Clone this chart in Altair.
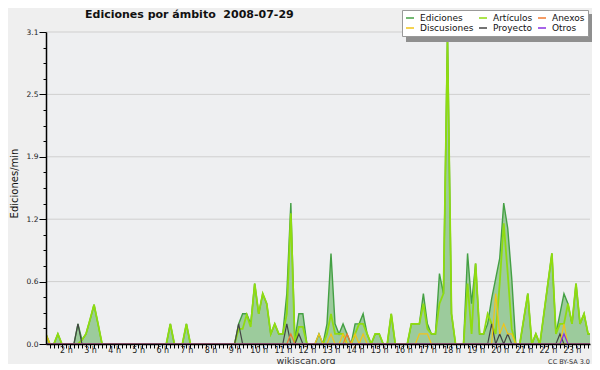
import altair as alt
import pandas as pd

FONT = "DejaVu Sans"

# 10-minute slots, first slot = 1:10, last = 23:50 (rows = hours)
FIRST_SLOT = 7  # slot index k, time = k/6 hours

ediciones = (
    [0.1, 0, 0, 0.1, 0]
    + [0, 0, 0, 0.2, 0.04, 0.1]
    + [0.24, 0.39, 0.2, 0, 0, 0]
    + [0, 0, 0, 0, 0, 0]
    + [0, 0, 0, 0, 0, 0]
    + [0, 0, 0.2, 0, 0, 0]
    + [0.2, 0, 0, 0, 0, 0]
    + [0, 0, 0, 0, 0, 0]
    + [0, 0.2, 0.3, 0.3, 0.2, 0.6]
    + [0.3, 0.5, 0.4, 0.1, 0.2, 0.1]
    + [0.1, 0.5, 1.4, 0.04, 0.3, 0.3]
    + [0, 0, 0, 0.1, 0, 0.2]
    + [0.9, 0.2, 0.1, 0.2, 0.1, 0]
    + [0.2, 0.2, 0.3, 0.1, 0, 0.1]
    + [0.1, 0, 0, 0.3, 0, 0]
    + [0, 0, 0.2, 0.2, 0.2, 0.5]
    + [0.2, 0.1, 0.1, 0.7, 0.5, 3.1]
    + [0.3, 0, 0, 0, 0.9, 0.4]
    + [0.8, 0.1, 0.1, 0.2, 0.45, 0.65]
    + [0.85, 1.4, 1.15, 0.65, 0, 0]
    + [0.25, 0.5, 0, 0.1, 0, 0.3]
    + [0.6, 0.9, 0.1, 0.3, 0.5, 0.4]
    + [0.2, 0.6, 0.2, 0.3, 0.1, 0.1]
)

articulos = (
    [0.1, 0, 0, 0.1, 0]
    + [0, 0, 0, 0, 0.04, 0.1]
    + [0.24, 0.39, 0.2, 0, 0, 0]
    + [0, 0, 0, 0, 0, 0]
    + [0, 0, 0, 0, 0, 0]
    + [0, 0, 0.2, 0, 0, 0]
    + [0.2, 0, 0, 0, 0, 0]
    + [0, 0, 0, 0, 0, 0]
    + [0, 0.15, 0.15, 0.29, 0.17, 0.6]
    + [0.3, 0.5, 0.4, 0.1, 0.2, 0.1]
    + [0.1, 0.3, 1.3, 0, 0.17, 0.17]
    + [0, 0, 0, 0, 0, 0.1]
    + [0.3, 0.1, 0.1, 0.1, 0, 0]
    + [0.1, 0.2, 0.2, 0.1, 0, 0.1]
    + [0.1, 0, 0, 0.3, 0, 0]
    + [0, 0, 0.2, 0.2, 0.2, 0.4]
    + [0.15, 0.1, 0.1, 0.4, 0.5, 3.0]
    + [0.3, 0, 0, 0, 0.6, 0.1]
    + [0.8, 0.1, 0.1, 0.3, 0.2, 0.1]
    + [0.6, 1.2, 0.7, 0.15, 0, 0]
    + [0.25, 0.5, 0, 0.1, 0, 0.3]
    + [0.6, 0.9, 0.1, 0.2, 0.2, 0.4]
    + [0.2, 0.6, 0.2, 0.3, 0.1, 0.1]
)

Z6 = [0, 0, 0, 0, 0, 0]

discusiones = (
    [0.1, 0, 0, 0, 0]
    + Z6 * 10
    + [0, 0, 0, 0.1, 0, 0]
    + [0.1, 0, 0, 0.1, 0, 0]
    + [0.1, 0, 0.1, 0, 0, 0]
    + Z6
    + [0, 0, 0, 0, 0.1, 0.1]
    + [0.1, 0, 0, 0, 0, 0]
    + Z6
    + [0, 0, 0, 0, 0, 0.5]
    + [0.1, 0.2, 0.1, 0.1, 0, 0]
    + Z6
    + [0, 0, 0, 0, 0.2, 0]
    + Z6
)

anexos = (
    [0, 0, 0, 0, 0]
    + Z6 * 9
    + [0, 0, 0.1, 0, 0, 0]
    + Z6
    + [0, 0, 0, 0, 0.1, 0]
    + Z6 * 10
)

proyecto = (
    [0, 0, 0, 0, 0]
    + [0, 0, 0, 0.2, 0, 0]
    + Z6 * 6
    + [0, 0.2, 0, 0, 0, 0]
    + Z6
    + [0, 0.2, 0, 0, 0.1, 0]
    + Z6 * 7
    + [0, 0, 0, 0, 0.2, 0]
    + [0.1, 0, 0.1, 0, 0, 0]
    + Z6
    + [0, 0, 0, 0.1, 0, 0]
    + Z6
)

otros = (
    [0, 0, 0, 0, 0]
    + Z6 * 20
    + [0, 0, 0, 0, 0.1, 0]
    + Z6
)

series_names = ["Ediciones", "Artículos", "Anexos", "Discusiones", "Proyecto", "Otros"]
series_colors = ["#44a044", "#8fdc10", "#f07a30", "#f2c418", "#444444", "#8a30e0"]
series_widths = {"Ediciones": 1.4, "Artículos": 1.8, "Anexos": 1.2,
                 "Discusiones": 1.2, "Proyecto": 1.2, "Otros": 1.2}
series_values = {"Ediciones": ediciones, "Artículos": articulos, "Anexos": anexos,
                 "Discusiones": discusiones, "Proyecto": proyecto, "Otros": otros}
draw_order = ["Ediciones", "Artículos", "Proyecto", "Discusiones", "Anexos", "Otros"]

y_max = 3.1
y_major = [0.0, 0.62, 1.24, 1.86, 2.48, 3.1]
y_ticks = [round(i * 0.155, 4) for i in range(21)]
x_domain = [1.174, 23.747]
title_text = "Ediciones por ámbito\u00a0\u00a02008-07-29"
credit = "CC BY-SA 3.0"
source = "wikiscan.org"

n = len(ediciones)
times = [round((FIRST_SLOT + i) / 6, 5) for i in range(n)]
for name, vals in series_values.items():
    assert len(vals) == n, (name, len(vals), n)

rows = []
for name in series_names:
    for t, v in zip(times, series_values[name]):
        rows.append({"t": t, "v": v, "serie": name})
df = pd.DataFrame(rows)
df_ed = df[df.serie == "Ediciones"]

x_ticks = [round(k / 6, 5) for k in range(FIRST_SLOT + 1, FIRST_SLOT + n) if k / 6 <= x_domain[1]]

xscale = alt.Scale(domain=x_domain, nice=False, zero=False)
yscale = alt.Scale(domain=[0, y_max], nice=False)

MAJOR_TEST = "abs(datum.value / 0.62 - round(datum.value / 0.62)) < 0.01"

x_enc = alt.X(
    "t:Q", scale=xscale,
    axis=alt.Axis(
        values=x_ticks,
        labelExpr="abs(datum.value - round(datum.value)) < 0.01 ? round(datum.value) + ' h' : ''",
        tickSize=4, tickColor="black", tickWidth=1,
        domainColor="black", domainWidth=1.5,
        labelFont=FONT, labelFontSize=8, labelColor="#222",
        labelPadding=-2, labelOverlap=False, labelFlush=False, labelBound=False,
        grid=False, zindex=1,
        title=source, titleFont=FONT, titleFontSize=9.5, titleFontWeight="normal",
        titleColor="#333", titleX=259.5, titleY=19, titleBaseline="alphabetic",
        titleAlign="center",
    ),
)
y_enc = alt.Y(
    "v:Q", scale=yscale,
    axis=alt.Axis(
        values=y_ticks,
        labelExpr=MAJOR_TEST + " ? format(datum.value, '.1f') : ''",
        tickSize={"condition": {"test": MAJOR_TEST, "value": 7}, "value": 3},
        tickColor="black", tickWidth=1,
        domainColor="black", domainWidth=1.5,
        labelFont=FONT, labelFontSize=7.5, labelColor="#222", labelPadding=1,
        labelOverlap=False, grid=False, zindex=1,
        title="Ediciones/min", titleFont=FONT, titleFontSize=10,
        titleFontWeight="normal", titleColor="#111",
        titleX=-32, titleY=151, titleAlign="center", titleBaseline="middle",
    ),
)

color_enc = alt.Color(
    "serie:N",
    scale=alt.Scale(domain=series_names, range=series_colors),
    legend=alt.Legend(
        orient="none", legendX=356, legendY=-22, columns=3, direction="horizontal",
        symbolType="stroke", symbolSize=64, symbolStrokeWidth=1.5,
        labelFont=FONT, labelFontSize=9, labelColor="#111", title=None,
        fillColor="white", strokeColor="#999999", padding=3,
        rowPadding=0, columnPadding=2, labelOffset=5,
    ),
)

grid_df = pd.DataFrame({"v": y_major})
grid = alt.Chart(grid_df).mark_rule(color="#cfcfcf", strokeWidth=1).encode(y=y_enc)

area = alt.Chart(df_ed).mark_area(color="#9ccb9c", clip=True).encode(x=x_enc, y=y_enc)

lines = []
for name in draw_order:
    lines.append(
        alt.Chart(df[df.serie == name])
        .mark_line(clip=True, strokeWidth=series_widths[name], interpolate="linear")
        .encode(x=x_enc, y=y_enc, color=color_enc)
    )

texts = pd.DataFrame({"txt": [credit, title_text]})

note = alt.Chart(texts.iloc[[0]]).mark_text(
    align="right", baseline="alphabetic", font=FONT, fontSize=6.5, color="#333"
).encode(text="txt:N", x=alt.value(544), y=alt.value(331.5))

heading = alt.Chart(texts.iloc[[1]]).mark_text(
    align="left", baseline="alphabetic", font=FONT, fontSize=11,
    fontWeight="bold", color="#111"
).encode(text="txt:N", x=alt.value(39), y=alt.value(-14))

# decorative drop shadow behind the legend box
shadow = alt.Chart(pd.DataFrame({"s": [0]})).mark_rect(color="#8f8f8f").encode(
    x=alt.value(360), x2=alt.value(546), y=alt.value(-18), y2=alt.value(10)
)

chart = alt.layer(grid, area, *lines, note, heading, shadow).properties(
    width=544, height=312,
    autosize=alt.AutoSizeParams(type="none"),
    padding={"left": 38, "top": 24, "right": 2, "bottom": 20},
    background="#efefef",
).configure_view(stroke=None, fill="#eeeff1")

chart.save("out.html", embed_options={"renderer": "svg", "actions": False})
